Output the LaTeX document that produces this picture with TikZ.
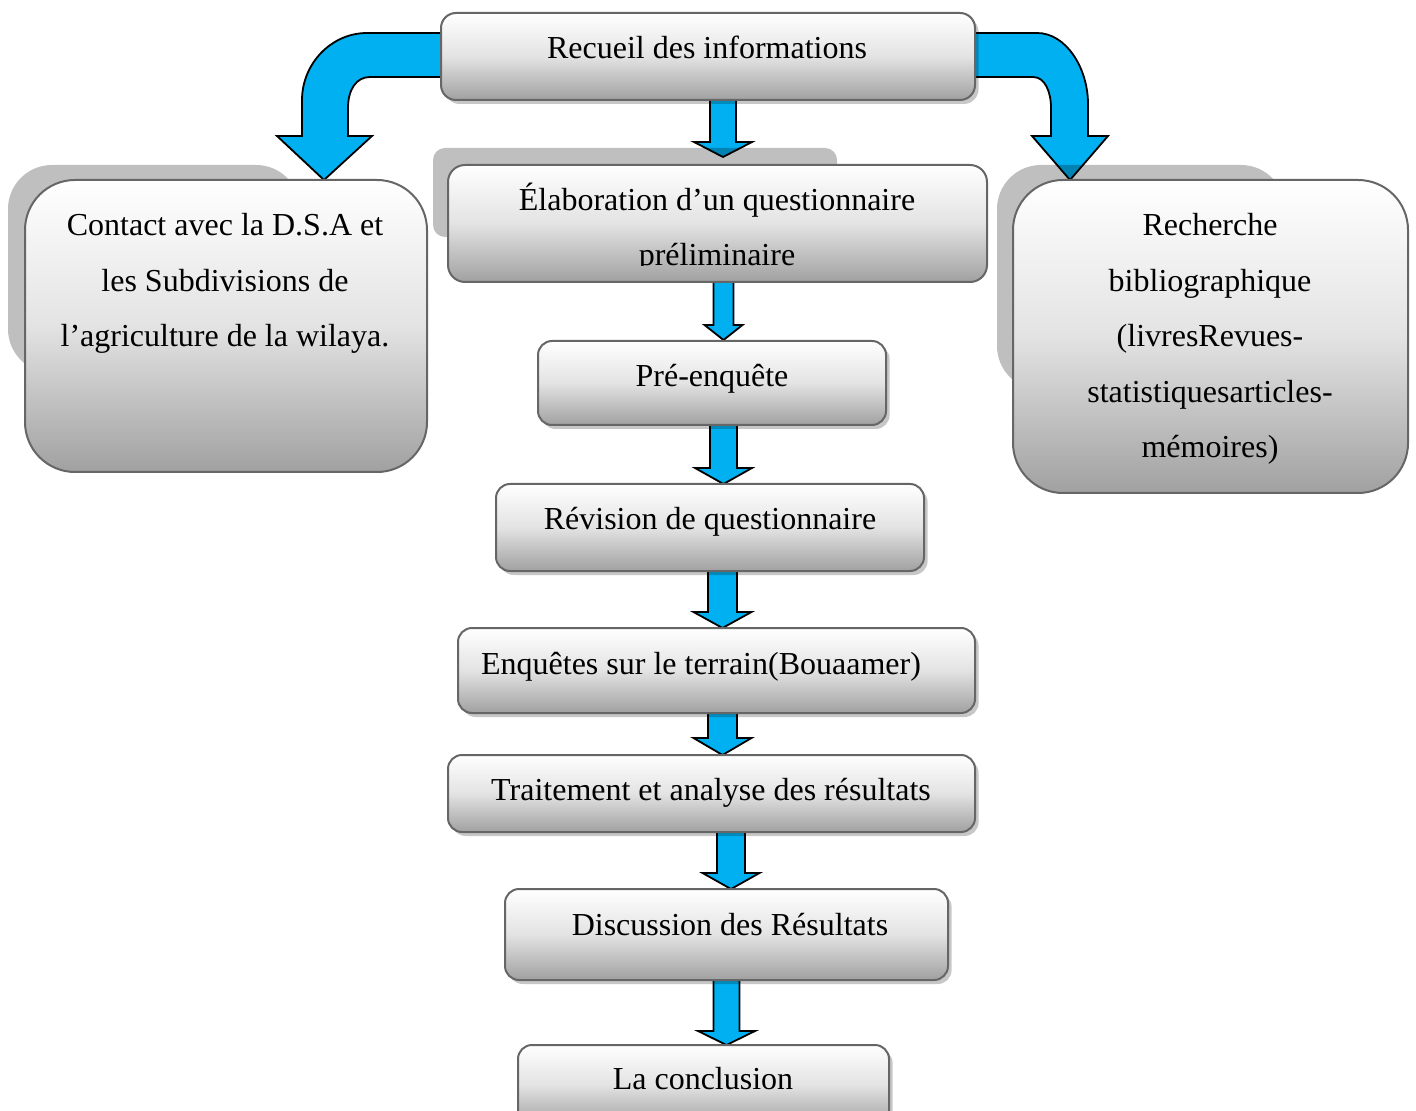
\documentclass[tikz,border=0pt]{standalone}
\usepackage{fontspec}
\setmainfont{Liberation Serif}
\usetikzlibrary{calc,shadows}
\definecolor{arrowblue}{RGB}{0,176,240}
\pgfdeclarelayer{arrowlayer}
\pgfdeclarelayer{shadelayer}
\pgfsetlayers{arrowlayer,shadelayer,main}
\tikzset{
 box/.style={draw=black!60, line width=1pt, top color=white, bottom color=black!37, middle color=black!11, inner sep=0pt, outer sep=0pt},
 sbox/.style={box, drop shadow={shadow xshift=1.8pt, shadow yshift=-2pt, fill=black, opacity=0.22}},
 bigshade/.style={fill=black, opacity=0.25},
 barrow/.style={fill=arrowblue, draw=black, line width=0.9pt},
 txt/.style={font=\fontsize{16}{27.75}\selectfont, inner sep=0pt, anchor=base, align=center},
}
% #1 from, #2 to, #3 x centre, #4 shaft half width, #5 head half width, #6 head length, #7 gap
\newcommand{\blkarrow}[7]{%
  \coordinate (ax) at (#3,0);
  \draw[barrow] ($(#1.south -| ax)+(-#4,-4)$) -- ($(#2.north -| ax)+(-#4,-#6-#7)$)
     -- ($(#2.north -| ax)+(-#5,-#6-#7)$) -- ($(#2.north -| ax)+(0,-#7)$)
     -- ($(#2.north -| ax)+(#5,-#6-#7)$) -- ($(#2.north -| ax)+(#4,-#6-#7)$)
     -- ($(#1.south -| ax)+(#4,-4)$) -- cycle;}
\begin{document}
\begin{tikzpicture}[x=0.5pt,y=-0.5pt]
\useasboundingbox (0,0) rectangle (1416,1111);
\clip (0,0) rectangle (1416,1111);

% boxes
\node[sbox, rounded corners=7.5pt, minimum width=267pt, minimum height=43.5pt] (recueil) at (708,56.5) {};
\node[box, rounded corners=25pt, minimum width=201pt, minimum height=146pt] (contact) at (226,326) {};
\node[box, rounded corners=8.5pt, minimum width=269.5pt, minimum height=58.5pt] (elab) at (717.5,223.5) {};
\node[box, rounded corners=25pt, minimum width=197.5pt, minimum height=156.5pt] (recherche) at (1210.5,336.5) {};
\node[sbox, rounded corners=7pt, minimum width=174pt, minimum height=42pt] (pre) at (712,383) {};
\node[sbox, rounded corners=7pt, minimum width=214pt, minimum height=43.5pt] (revision) at (710,527.5) {};
\node[sbox, rounded corners=7pt, minimum width=258.5pt, minimum height=42.5pt] (enquetes) at (716.5,670.5) {};
\node[sbox, rounded corners=7pt, minimum width=263.5pt, minimum height=38.5pt] (traitement) at (711.5,793.5) {};
\node[sbox, rounded corners=7pt, minimum width=221.5pt, minimum height=45.5pt] (discussion) at (726.5,934.5) {};
\node[sbox, rounded corners=7pt, minimum width=185.5pt, minimum height=40pt] (conclusion) at (703.5,1085) {};

% texts (for several lines, the base anchor is the baseline of the last line)
\node[txt] (recueil-t) at (707,59) {Recueil des informations};
\node[txt] (contact-t) at (225,347) {Contact avec la D.S.A et\\les Subdivisions de\\l’agriculture de la wilaya.};
\begin{scope}
  \clip (elab.north west) rectangle ($(elab.south east)+(0,-16)$);
  \node[txt] (elab-t) at (717,266) {Élaboration d’un questionnaire\\préliminaire};
\end{scope}
\node[txt] (recherche-t) at (1210,458) {Recherche\\bibliographique\\(livresRevues-\\statistiquesarticles-\\mémoires)};
\node[txt] (pre-t) at (712,387) {Pré-enquête};
\node[txt] (revision-t) at (710,530) {Révision de questionnaire};
\node[txt] (enquetes-t) at (701,674) {Enquêtes sur le terrain(Bouaamer)};
\node[txt] (traitement-t) at (711,800) {Traitement et analyse des résultats};
\node[txt] (discussion-t) at (730,935) {Discussion des Résultats};
\node[txt] (conclusion-t) at (703,1089) {La conclusion};

% big shadows
\begin{pgfonlayer}{shadelayer}
  \fill[bigshade, rounded corners=22pt] (8,165) rectangle (300,373);
  \fill[bigshade, rounded corners=6pt] (433,148) rectangle (837,237);
  \fill[bigshade, rounded corners=22pt] (997,165) rectangle (1285,390);
\end{pgfonlayer}

% arrows
\begin{pgfonlayer}{arrowlayer}
  \coordinate (ya) at (0,33);
  \coordinate (yb) at (0,77);
  \coordinate (xl) at (324,0);
  \coordinate (xr) at (1070,0);
  \draw[barrow] ($(recueil.west |- ya)+(10,0)$) -- (367,33)
     .. controls (331,33) and (302,64) .. (302,100) -- (302,136) -- (277,136)
     -- (contact.north -| xl) -- (372,136) -- (348,136) -- (348,108)
     .. controls (348,90) and (356,77) .. (370,77) -- ($(recueil.west |- yb)+(10,0)$) -- cycle;
  \draw[barrow] ($(recueil.east |- ya)+(-10,0)$) -- (1037,33)
     .. controls (1066,33) and (1088,68) .. (1088,104) -- (1088,136) -- (1108,136)
     -- (recherche.north -| xr) -- (1032,136) -- (1051,136) -- (1051,108)
     .. controls (1051,92) and (1045,77) .. (1033,77) -- ($(recueil.east |- yb)+(-10,0)$) -- cycle;
  \blkarrow{recueil}{elab}{723}{13}{29}{15}{8}
  \blkarrow{elab}{pre}{723.5}{10}{19}{15}{1}
  \blkarrow{pre}{revision}{723.5}{13.5}{28.5}{16}{0}
  \blkarrow{revision}{enquetes}{722.5}{14.5}{29}{16}{0}
  \blkarrow{enquetes}{traitement}{722.5}{14.5}{29}{17}{0}
  \blkarrow{traitement}{discussion}{731}{14}{28.5}{16}{0}
  \blkarrow{discussion}{conclusion}{726.5}{13}{28.5}{14}{0}
\end{pgfonlayer}
\end{tikzpicture}
\end{document}
